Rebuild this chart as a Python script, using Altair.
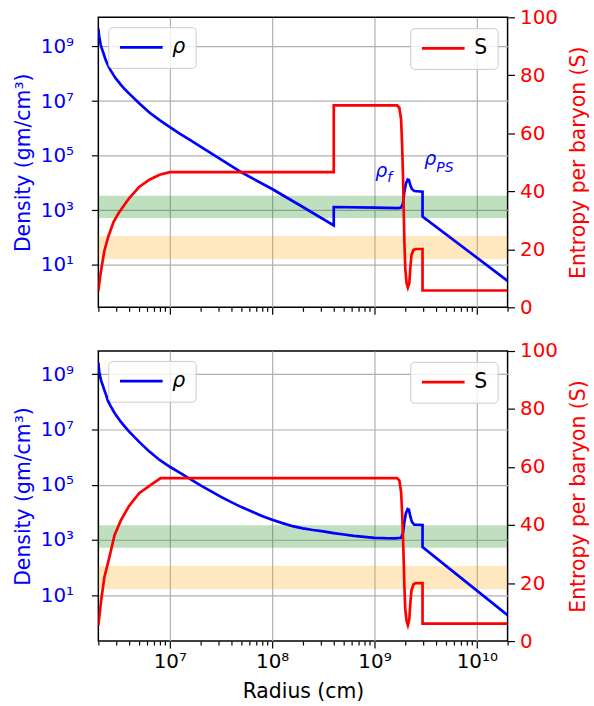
import altair as alt
import pandas as pd

FONT = "DejaVu Sans"

# ---------------- data ----------------
x_domain = [2e6, 2e10]
x_ticks = [2e6, 3e6, 4e6, 5e6, 6e6, 7e6, 8e6, 9e6,
           1e7, 2e7, 3e7, 4e7, 5e7, 6e7, 7e7, 8e7, 9e7,
           1e8, 2e8, 3e8, 4e8, 5e8, 6e8, 7e8, 8e8, 9e8,
           1e9, 2e9, 3e9, 4e9, 5e9, 6e9, 7e9, 8e9, 9e9,
           1e10, 2e10]
rho_ticks = [1e1, 1e3, 1e5, 1e7, 1e9]
S_ticks = [0, 20, 40, 60, 80, 100]

top_rho_domain = [0.28, 1.17e10]
bot_rho_domain = [0.22, 6.9e9]
S_domain = [0, 100]

band_names = ["green", "orange"]
band_lo = [520.0, 16.5]
band_hi = [3400.0, 115.0]

# top panel: density
top_rho_r = [2.0e6, 2.018e6, 2.042e6, 2.08e6, 2.113e6, 2.153e6, 2.208e6, 2.291e6, 2.371e6, 2.472e6,
             2.63e6, 2.818e6, 2.972e6, 3.311e6, 3.631e6, 3.981e6, 5.012e6, 6.31e6, 7.943e6, 1.0e7,
             1.259e7, 1.585e7, 1.995e7, 2.754e7, 5.012e7, 1.0e8, 1.995e8, 4.0e8,
             4.0e8, 1.0e9, 1.7e9, 1.82e9, 1.9e9, 1.96e9, 2.03e9, 2.11e9, 2.17e9,
             2.24e9, 2.32e9, 2.45e9, 2.95e9, 2.95e9, 2.0e10]
top_rho = [4.57e9, 3.16e9, 2.24e9, 1.51e9, 1.12e9, 8.9e8, 6.76e8, 4.47e8, 3.02e8, 2.14e8,
           1.35e8, 8.9e7, 6.6e7, 3.98e7, 2.69e7, 1.91e7, 8.3e6, 3.8e6, 2.0e6, 1.12e6,
           6.3e5, 3.7e5, 2.14e5, 1.0e5, 2.45e4, 6.0e3, 1.32e3, 2.8e2,
           1.32e3, 1.26e3, 1.2e3, 1.26e3, 1.78e3, 4.8e3, 9.5e3, 1.35e4, 1.29e4,
           8.3e3, 6.0e3, 5.1e3, 4.8e3, 5.9e2, 2.6]
# top panel: entropy
top_S_r = [2.0e6, 2.09e6, 2.29e6, 2.51e6, 2.82e6, 3.16e6, 3.98e6, 5.01e6, 6.31e6, 7.94e6,
           1.0e7, 4.0e8, 4.0e8, 1.66e9, 1.75e9, 1.82e9, 1.86e9, 1.9e9, 1.93e9, 1.96e9,
           2.0e9, 2.06e9, 2.12e9, 2.19e9, 2.24e9, 2.3e9, 2.41e9, 2.54e9, 2.95e9, 2.95e9,
           2.0e10]
top_S = [5.5, 11.0, 19.5, 24.5, 29.5, 32.5, 37.5, 41.5, 44.0, 45.7,
         46.6, 46.6, 69.6, 69.6, 68.8, 64.8, 56.8, 45.4, 34.0, 22.6,
         13.5, 8.3, 6.8, 8.3, 13.5, 18.0, 19.8, 20.1, 20.1, 5.8,
         5.8]

# bottom panel: density
bot_rho_r = [2.0e6, 2.018e6, 2.042e6, 2.08e6, 2.138e6, 2.208e6, 2.291e6, 2.371e6, 2.472e6, 2.63e6,
             2.818e6, 2.972e6, 3.311e6, 3.631e6, 3.981e6, 5.012e6, 6.31e6, 7.943e6, 1.0e7, 1.259e7,
             1.585e7, 1.995e7, 2.512e7, 3.162e7, 3.981e7, 5.012e7, 6.31e7, 7.943e7, 1.0e8, 1.259e8,
             1.585e8, 1.995e8, 2.512e8, 3.162e8, 3.981e8, 5.012e8, 6.31e8, 7.943e8, 1.0e9, 1.259e9,
             1.585e9, 1.82e9, 1.9e9, 1.96e9, 2.03e9, 2.11e9, 2.17e9, 2.24e9, 2.32e9, 2.45e9,
             2.95e9, 2.95e9, 2.0e10]
bot_rho = [2.63e9, 1.78e9, 1.26e9, 8.3e8, 5.6e8, 3.98e8, 2.63e8, 1.86e8, 1.12e8, 7.1e7,
           4.57e7, 3.31e7, 1.91e7, 1.26e7, 8.5e6, 3.55e6, 1.58e6, 7.9e5, 4.47e5, 2.69e5,
           1.58e5, 9.5e4, 5.9e4, 3.63e4, 2.34e4, 1.55e4, 1.07e4, 7.4e3, 5.4e3, 4.07e3,
           3.16e3, 2.63e3, 2.29e3, 2.04e3, 1.78e3, 1.58e3, 1.41e3, 1.29e3, 1.2e3, 1.16e3,
           1.15e3, 1.2e3, 1.78e3, 4.5e3, 9.3e3, 1.32e4, 1.26e4, 7.1e3, 4.5e3, 3.6e3,
           3.5e3, 5.5e2, 1.9]
# bottom panel: entropy
bot_S_r = [2.0e6, 2.13e6, 2.29e6, 2.57e6, 2.88e6, 3.31e6, 3.98e6, 5.01e6, 6.31e6, 8.13e6,
           1.66e9, 1.75e9, 1.82e9, 1.86e9, 1.9e9, 1.93e9, 1.96e9, 2.0e9, 2.06e9, 2.12e9,
           2.19e9, 2.24e9, 2.3e9, 2.41e9, 2.54e9, 2.95e9, 2.95e9, 2.0e10]
bot_S = [5.3, 14.0, 22.0, 29.0, 36.5, 41.5, 46.5, 51.0, 53.5, 56.2,
         56.2, 55.4, 51.5, 45.0, 36.0, 28.0, 19.0, 11.0, 7.0, 5.5,
         7.5, 13.0, 17.5, 19.6, 20.0, 20.0, 6.0, 6.0]

# annotations (top panel only)
ann_main = ["ρ", "ρ"]
ann_r = [1.02e9, 3.06e9]
ann_rho = [1.6e4, 4.4e4]
ann_sub = ["f", "PS"]
ann_sub_r = [1.33e9, 4.02e9]
ann_sub_rho = [1.07e4, 2.6e4]

# ---------------- chart ----------------
W, H = 412, 292
SUP = "['⁰','¹','²','³','⁴','⁵','⁶','⁷','⁸','⁹']"
EXP = "round(log(datum.value)/LN10)"
POW_LABEL = f"'10' + ({EXP} >= 10 ? '¹' + {SUP}[{EXP} - 10] : {SUP}[{EXP}])"
MAJOR = f"abs(log(datum.value)/LN10 - {EXP}) < 0.001"
X_LABEL = f"{MAJOR} ? ({POW_LABEL}) : ''"

TICK_COND = {"condition": {"test": MAJOR, "value": 7}, "value": 4}
GRID_COND = {"condition": {"test": MAJOR, "value": 1}, "value": 0}

LEG = dict(padding=10, fillColor="rgba(255,255,255,0.8)",
           strokeColor="#cccccc", cornerRadius=4,
           symbolType="M-3,0H3", symbolSize=205, symbolStrokeWidth=2.7,
           symbolOffset=13, labelOffset=21, labelFontSize=20.5, labelFont=FONT,
           title=None)


def panel(rho_r, rho, s_r, s, rho_domain, bottom, annotate):
    xaxis_kw = dict(values=x_ticks, grid=True, tickSize=TICK_COND, gridOpacity=GRID_COND,
                    labelOverlap=False, labelFlush=False)
    if bottom:
        xaxis_kw.update(labelExpr=X_LABEL, labelPadding=4, title="Radius (cm)",
                        titleX=W / 2, titleY=51, titleBaseline="middle", titleColor="black")
    else:
        xaxis_kw.update(labels=False, title="")
    xaxis = alt.Axis(**xaxis_kw)
    xscale = alt.Scale(type="log", domain=x_domain, nice=False)

    yscale = alt.Scale(type="log", domain=rho_domain, nice=False)
    yaxis = alt.Axis(values=rho_ticks, labelExpr=POW_LABEL, title="Density (gm/cm³)",
                     titleColor="blue", labelColor="blue", tickSize=7, labelPadding=18,
                     grid=True, titleX=-75.5, titleY=H / 2, titleBaseline="middle",
                     labelOverlap=False, labelFlush=False)

    saxis = alt.Axis(orient="right", values=S_ticks, title="Entropy per baryon (S)",
                     titleColor="red", labelColor="red", tickSize=7, labelPadding=5,
                     grid=False, titleAngle=270, titleX=71, titleY=H / 2,
                     titleBaseline="middle", labelOverlap=False, labelFlush=False)

    df_band = pd.DataFrame({"band": band_names, "lo": band_lo, "hi": band_hi,
                            "x1": [x_domain[0]] * 2, "x2": [x_domain[1]] * 2})
    df_rho = pd.DataFrame({"r": rho_r, "rho": rho, "series": "ρ",
                           "idx": list(range(len(rho)))})
    df_s = pd.DataFrame({"r": s_r, "S": s, "series2": "S", "idx": list(range(len(s)))})

    bands = alt.Chart(df_band).mark_rect(opacity=0.25, clip=True).encode(
        x=alt.X("x1:Q", scale=xscale, axis=xaxis),
        x2="x2:Q",
        y=alt.Y("lo:Q", scale=yscale, axis=yaxis),
        y2="hi:Q",
        fill=alt.Fill("band:N", scale=alt.Scale(domain=band_names, range=["green", "orange"]),
                      legend=None),
    )
    blue = alt.Chart(df_rho).mark_line(strokeWidth=2.7, clip=True).encode(
        x=alt.X("r:Q", scale=xscale, axis=xaxis),
        y=alt.Y("rho:Q", scale=yscale, axis=yaxis),
        order=alt.Order("idx:Q"),
        color=alt.Color("series:N", scale=alt.Scale(domain=["ρ"], range=["blue"]),
                        legend=alt.Legend(orient="top-left", offset=10,
                                          labelFontStyle="italic", **LEG)),
    )
    inner = [bands, blue]
    if annotate:
        df_a = pd.DataFrame({"r": ann_r, "rho": ann_rho, "txt": ann_main})
        df_b = pd.DataFrame({"r": ann_sub_r, "rho": ann_sub_rho, "txt": ann_sub})
        ta = alt.Chart(df_a).mark_text(align="left", baseline="alphabetic", font=FONT,
                                       fontStyle="italic", fontSize=19, color="blue").encode(
            x=alt.X("r:Q", scale=xscale, axis=xaxis),
            y=alt.Y("rho:Q", scale=yscale, axis=yaxis),
            text="txt:N")
        tb = alt.Chart(df_b).mark_text(align="left", baseline="alphabetic", font=FONT,
                                       fontStyle="italic", fontSize=14, color="blue").encode(
            x=alt.X("r:Q", scale=xscale, axis=xaxis),
            y=alt.Y("rho:Q", scale=yscale, axis=yaxis),
            text="txt:N")
        inner += [ta, tb]
    dens = alt.layer(*inner)

    red = alt.Chart(df_s).mark_line(strokeWidth=2.7, clip=True).encode(
        x=alt.X("r:Q", scale=xscale, axis=xaxis),
        y=alt.Y("S:Q", scale=alt.Scale(domain=S_domain, nice=False, zero=False), axis=saxis),
        order=alt.Order("idx:Q"),
        color=alt.Color("series2:N", scale=alt.Scale(domain=["S"], range=["red"]),
                        legend=alt.Legend(orient="none", legendX=314, legendY=11, **LEG)),
    )
    return alt.layer(dens, red).resolve_scale(y="independent", color="independent").properties(
        width=W, height=H)


top = panel(top_rho_r, top_rho, top_S_r, top_S, top_rho_domain, False, True)
bot = panel(bot_rho_r, bot_rho, bot_S_r, bot_S, bot_rho_domain, True, False)

chart = alt.vconcat(top, bot, spacing=44, bounds="flush").resolve_scale(
    y="independent", color="independent"
).properties(
    padding={"left": 12, "right": 4, "top": 4, "bottom": 0}, background="white"
).configure(font=FONT).configure_view(
    stroke="black", strokeWidth=1.5
).configure_axis(
    labelFont=FONT, titleFont=FONT, labelFontSize=20, titleFontSize=20.5,
    titleFontWeight="normal", domain=False, tickColor="black", tickWidth=1.2,
    gridColor="#b0b0b0", gridWidth=1.2,
).configure_legend(strokeWidth=1)

chart.save("out.html", embed_options={"renderer": "svg", "actions": False})
